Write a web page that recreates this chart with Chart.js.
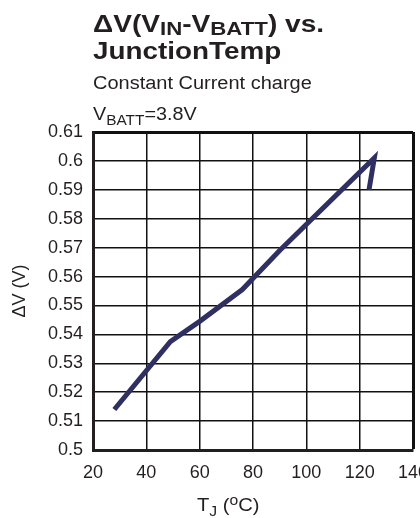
<!DOCTYPE html>
<html>
<head>
<meta charset="utf-8">
<script src="https://cdn.jsdelivr.net/npm/chart.js@4/dist/chart.umd.min.js"></script>
<style>
  body { margin: 0; background: #fff; }
  canvas { display: block; }
</style>
</head>
<body>
<canvas id="grafico" width="420" height="518"></canvas>
<script>
// dados
const temperaturas = [28, 49, 60, 76, 90, 125.5, 123.5];
const deltaV = [0.514, 0.5375, 0.5445, 0.5555, 0.569, 0.601, 0.590];
const ticksX = [20, 40, 60, 80, 100, 120, 140];
const ticksY = [0.5, 0.51, 0.52, 0.53, 0.54, 0.55, 0.56, 0.57, 0.58, 0.59, 0.6, 0.61];

const fonte = "'Liberation Sans', Arial, sans-serif";
const corTexto = "#231f20";

// escreve texto com pedaços em subscrito / sobrescrito, esticado na horizontal
function textoMisto(ctx, partes, x, y, escala) {
    ctx.save();
    ctx.translate(x, y);
    ctx.scale(escala || 1, 1);
    let px = 0;
    partes.forEach(p => {
        ctx.font = p.font;
        ctx.fillText(p.t, px, p.dy || 0);
        px += ctx.measureText(p.t).width;
    });
    ctx.restore();
}

const textos = {
    id: "textos",
    afterDraw(chart) {
        const ctx = chart.ctx;
        ctx.save();
        ctx.fillStyle = corTexto;
        ctx.textBaseline = "alphabetic";
        ctx.textAlign = "left";

        const b = "bold 24px " + fonte;
        const bs = "bold 19px " + fonte;
        textoMisto(ctx, [
            { t: "ΔV(V", font: b },
            { t: "IN", font: bs, dy: 3 },
            { t: "-V", font: b },
            { t: "BATT", font: bs, dy: 3 },
            { t: ") vs.", font: b }
        ], 93, 32, 1.17);
        textoMisto(ctx, [{ t: "JunctionTemp", font: b }], 93, 59, 1.16);

        const r = "18px " + fonte;
        const rs = "14px " + fonte;
        textoMisto(ctx, [{ t: "Constant Current charge", font: r }], 93, 89, 1.11);
        textoMisto(ctx, [
            { t: "V", font: r },
            { t: "BATT", font: rs, dy: 5 },
            { t: "=3.8V", font: r }
        ], 93, 120, 1.1);

        // titulo eixo x
        textoMisto(ctx, [
            { t: "T", font: r },
            { t: "J", font: rs, dy: 5 },
            { t: " (", font: r },
            { t: "o", font: rs, dy: -6 },
            { t: "C)", font: r }
        ], 197, 511, 1.12);

        // titulo eixo y
        ctx.translate(25, 291);
        ctx.rotate(-Math.PI / 2);
        ctx.textAlign = "center";
        ctx.font = r;
        ctx.fillText("ΔV (V)", 0, 0);
        ctx.restore();
    }
};

new Chart(document.getElementById("grafico"), {
    type: "line",
    data: {
        datasets: [{
            data: temperaturas.map((t, i) => ({ x: t, y: deltaV[i] })),
            borderColor: "#2f2f62",
            borderWidth: 5,
            pointRadius: 0,
            tension: 0,
            borderJoinStyle: "miter",
            borderCapStyle: "butt"
        }]
    },
    options: {
        responsive: false,
        animation: false,
        layout: { padding: { top: 132, left: 0, right: 7, bottom: 0 } },
        plugins: {
            legend: { display: false },
            tooltip: { enabled: false }
        },
        scales: {
            x: {
                type: "linear",
                min: 20,
                max: 140,
                afterBuildTicks: s => { s.ticks = ticksX.map(v => ({ value: v })); },
                afterFit: s => { s.height = 68; s.paddingLeft = 0; s.paddingRight = 0; },
                ticks: {
                    padding: 12,
                    color: corTexto,
                    font: { family: fonte, size: 18 }
                },
                grid: {
                    color: "#111",
                    drawTicks: false,
                    lineWidth: c => c.index === ticksX.length - 1 ? 3 : 1.5
                },
                border: { display: true, width: 3, color: "#231f20" }
            },
            y: {
                type: "linear",
                min: 0.5,
                max: 0.61,
                afterBuildTicks: s => { s.ticks = ticksY.map(v => ({ value: v })); },
                afterFit: s => { s.width = 93; s.paddingTop = 0; s.paddingBottom = 0; },
                ticks: {
                    padding: 10,
                    color: corTexto,
                    font: { family: fonte, size: 18 },
                    callback: v => String(Math.round(v * 100) / 100)
                },
                grid: {
                    color: "#111",
                    drawTicks: false,
                    lineWidth: c => c.index === ticksY.length - 1 ? 3 : 1.5
                },
                border: { display: true, width: 3, color: "#231f20" }
            }
        }
    },
    plugins: [textos]
});
</script>
</body>
</html>
